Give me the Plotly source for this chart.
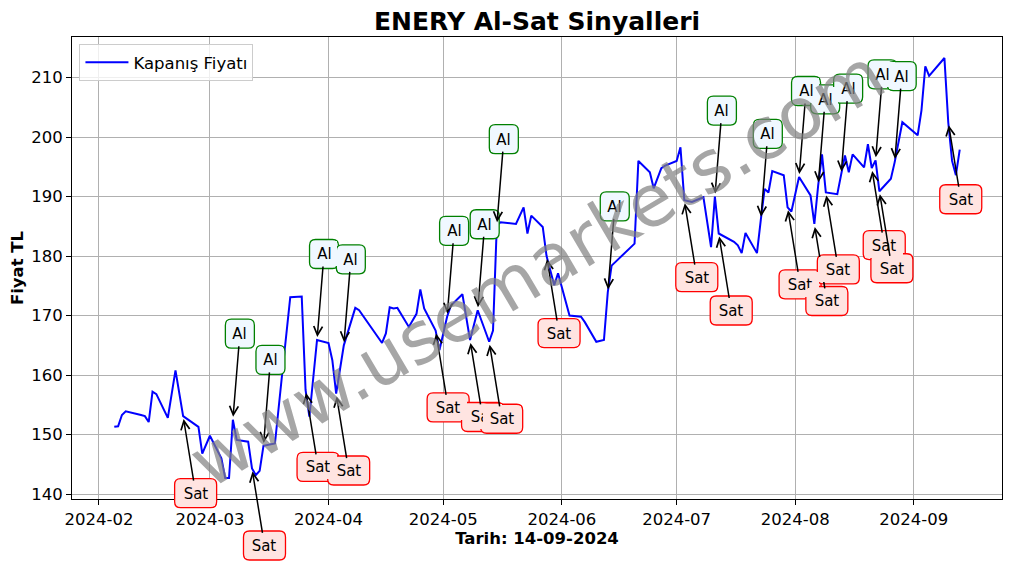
import pandas as pd
import plotly.graph_objects as go

# closing prices
dates = [
    "2024-02-05", "2024-02-06", "2024-02-07", "2024-02-08", "2024-02-12", "2024-02-13",
    "2024-02-14", "2024-02-15", "2024-02-16", "2024-02-19", "2024-02-21", "2024-02-23",
    "2024-02-27", "2024-02-28",
    "2024-03-01", "2024-03-04", "2024-03-05", "2024-03-06", "2024-03-07", "2024-03-08",
    "2024-03-11", "2024-03-12", "2024-03-13", "2024-03-14", "2024-03-15", "2024-03-18",
    "2024-03-20", "2024-03-22", "2024-03-25", "2024-03-26", "2024-03-27", "2024-03-29",
    "2024-04-01", "2024-04-02", "2024-04-03", "2024-04-05", "2024-04-08", "2024-04-09",
    "2024-04-15", "2024-04-16", "2024-04-17", "2024-04-18", "2024-04-19", "2024-04-22",
    "2024-04-24", "2024-04-25", "2024-04-26", "2024-04-29", "2024-04-30",
    "2024-05-02", "2024-05-03", "2024-05-06", "2024-05-08", "2024-05-10", "2024-05-13",
    "2024-05-14", "2024-05-15", "2024-05-16", "2024-05-20", "2024-05-22", "2024-05-23",
    "2024-05-24", "2024-05-27", "2024-05-28", "2024-05-30", "2024-05-31",
    "2024-06-03", "2024-06-05", "2024-06-06", "2024-06-07", "2024-06-10", "2024-06-12",
    "2024-06-13", "2024-06-14", "2024-06-20", "2024-06-21", "2024-06-24", "2024-06-25",
    "2024-06-27", "2024-06-28",
    "2024-07-01", "2024-07-02", "2024-07-03", "2024-07-05", "2024-07-08", "2024-07-10",
    "2024-07-11", "2024-07-12", "2024-07-16", "2024-07-17", "2024-07-18", "2024-07-19",
    "2024-07-22", "2024-07-23", "2024-07-24", "2024-07-25", "2024-07-26", "2024-07-29",
    "2024-07-30", "2024-07-31",
    "2024-08-02", "2024-08-05", "2024-08-06", "2024-08-07", "2024-08-08", "2024-08-09",
    "2024-08-12", "2024-08-13", "2024-08-14", "2024-08-15", "2024-08-16", "2024-08-19",
    "2024-08-20", "2024-08-21", "2024-08-22", "2024-08-23", "2024-08-26", "2024-08-27",
    "2024-08-29",
    "2024-09-02", "2024-09-03", "2024-09-04", "2024-09-05", "2024-09-09", "2024-09-10",
    "2024-09-11", "2024-09-12", "2024-09-13",
]
close = [
    151.3, 151.4, 153.3, 153.9, 153.3, 153.1, 152.1, 157.2, 156.8, 152.8, 160.8, 153.1,
    151.3, 146.8,
    149.8, 146.0, 142.7, 142.7, 152.5, 149.1, 148.8, 144.3, 143.2, 143.9, 148.1, 148.5,
    160.9, 173.1, 173.2, 157.5, 153.0, 165.9,
    165.4, 162.5, 156.9, 165.0, 171.3, 170.9, 165.4, 167.0, 171.4, 171.2, 171.3, 168.1,
    170.3, 174.4, 171.2, 167.5, 164.2,
    169.8, 171.7, 173.6, 165.9, 170.9, 165.6, 167.5, 185.2, 185.7, 185.4, 188.2, 183.8,
    186.8, 184.9, 180.0, 175.1, 177.1,
    170.0, 169.8, 169.8, 168.9, 165.6, 165.9, 173.9, 178.4, 182.1, 196.0, 194.1, 191.4,
    194.8, 195.2,
    196.0, 198.3, 189.4, 189.1, 189.9, 181.5, 190.0, 183.8, 182.4, 181.8, 180.5, 183.9,
    180.5, 186.1, 191.3, 190.7, 194.3, 193.6, 188.2, 187.5,
    193.3, 190.2, 185.4, 191.9, 197.1, 190.7, 190.4, 193.7, 196.9, 194.1, 197.1, 194.9,
    198.8, 194.8, 196.1, 190.9, 193.0, 195.8, 202.5,
    200.3, 204.5, 211.9, 210.3, 213.3, 202.5, 196.0, 193.6, 197.9,
]

buy_dates = [
    "2024-03-07", "2024-03-15", "2024-03-29", "2024-04-05", "2024-05-02", "2024-05-10",
    "2024-05-15", "2024-06-13", "2024-07-11", "2024-07-23", "2024-08-02", "2024-08-07",
    "2024-08-13", "2024-08-22", "2024-08-27",
]
sell_dates = [
    "2024-02-23", "2024-03-12", "2024-03-26", "2024-04-03", "2024-04-29", "2024-05-08",
    "2024-05-13", "2024-05-28", "2024-07-03", "2024-07-12", "2024-07-30", "2024-08-06",
    "2024-08-09", "2024-08-21", "2024-08-23", "2024-09-10",
]

FONT = "DejaVu Sans"
GRID = "#b0b0b0"

s = pd.Series(close, index=pd.to_datetime(dates))

fig = go.Figure()
fig.add_trace(
    go.Scatter(
        x=s.index,
        y=s.values,
        mode="lines",
        name="Kapanış Fiyatı",
        line=dict(color="blue", width=2),
    )
)

# matplotlib-like 5% margins
span = s.index[-1] - s.index[0]
xr = [s.index[0] - span * 0.05, s.index[-1] + span * 0.05]
ypad = (s.max() - s.min()) * 0.05
yr = [s.min() - ypad, s.max() + ypad]

annotations = []
shapes = []


def round_box(cx, cy, hw, hh, r):
    # rounded rectangle path in pixels (y up) around (cx, cy)
    x0, x1, y0, y1 = cx - hw, cx + hw, cy - hh, cy + hh
    return (
        f"M{x0 + r},{y0} L{x1 - r},{y0} Q{x1},{y0} {x1},{y0 + r} "
        f"L{x1},{y1 - r} Q{x1},{y1} {x1 - r},{y1} L{x0 + r},{y1} "
        f"Q{x0},{y1} {x0},{y1 - r} L{x0},{y0 + r} Q{x0},{y0} {x0 + r},{y0} Z"
    )


def signal(d, text, ax, ay, fill, edge, hw):
    x = pd.Timestamp(d)
    y = s[x]
    # box outline referenced to paper in y so it is not clipped below the axes
    shapes.append(
        dict(
            type="path",
            xref="x",
            yref="paper",
            xsizemode="pixel",
            ysizemode="pixel",
            xanchor=x,
            yanchor=(y - yr[0]) / (yr[1] - yr[0]),
            path=round_box(ax, -ay, hw, 14.5, 6),
            fillcolor=fill,
            line=dict(color=edge, width=1.3),
            layer="above",
        )
    )
    annotations.append(
        dict(
            x=x,
            y=y,
            xref="x",
            yref="y",
            text=text,
            showarrow=True,
            ax=ax,
            ay=ay,
            arrowhead=5,
            arrowsize=1.15,
            arrowwidth=1.5,
            arrowcolor="black",
            standoff=3,
            font=dict(family=FONT, size=15, color="black"),
            bgcolor=fill,
            borderwidth=0,
            borderpad=4,
            width=2 * hw - 12,
            height=17,
        )
    )


for d in buy_dates:
    signal(d, "Al", 7, -86, "#f0f8ff", "green", 14.5)
for d in sell_dates:
    signal(d, "Sat", 12.5, 77, "#ffe4e1", "red", 21)

# watermark
annotations.append(
    dict(
        x=0.5,
        y=0.5,
        xref="paper",
        yref="paper",
        text="www.usemarkets.com",
        showarrow=False,
        textangle=-30.5,
        font=dict(family=FONT, size=72, color="rgba(128,128,128,0.7)"),
    )
)

# page body has an 8px margin, so the figure is 8px smaller than the window
fig.update_layout(
    width=1004,
    height=556,
    margin=dict(l=64, r=10, t=29, b=65),
    paper_bgcolor="white",
    plot_bgcolor="white",
    font=dict(family=FONT, size=16.5, color="black"),
    title=dict(
        text="<b>ENERY Al-Sat Sinyalleri</b>",
        x=0.5,
        xref="paper",
        xanchor="center",
        y=0.9766,
        yanchor="middle",
        font=dict(size=25),
    ),
    showlegend=True,
    legend=dict(
        x=0.008,
        y=0.985,
        xanchor="left",
        yanchor="top",
        bgcolor="rgba(255,255,255,0.8)",
        bordercolor="#cccccc",
        borderwidth=1,
        itemwidth=43,
        tracegroupgap=0,
        font=dict(size=16.5),
    ),
    annotations=annotations,
    shapes=shapes,
    xaxis=dict(
        type="date",
        range=xr,
        tick0="2024-02-01",
        dtick="M1",
        tickformat="%Y-%m",
        showgrid=True,
        gridcolor=GRID,
        gridwidth=0.8,
        showline=True,
        mirror=True,
        linecolor="black",
        linewidth=1,
        ticks="outside",
        ticklen=5,
        tickcolor="black",
        zeroline=False,
        automargin=False,
        title=dict(text="<b>Tarih: 14-09-2024</b>", font=dict(size=16.5), standoff=3),
    ),
    yaxis=dict(
        range=yr,
        dtick=10,
        showgrid=True,
        gridcolor=GRID,
        gridwidth=0.8,
        showline=True,
        mirror=True,
        linecolor="black",
        linewidth=1,
        ticks="outside",
        ticklen=5,
        tickcolor="black",
        zeroline=False,
        automargin=False,
        title=dict(text="<b>Fiyat TL</b>", font=dict(size=16.5), standoff=5),
    ),
)

fig.write_html("out.html")
